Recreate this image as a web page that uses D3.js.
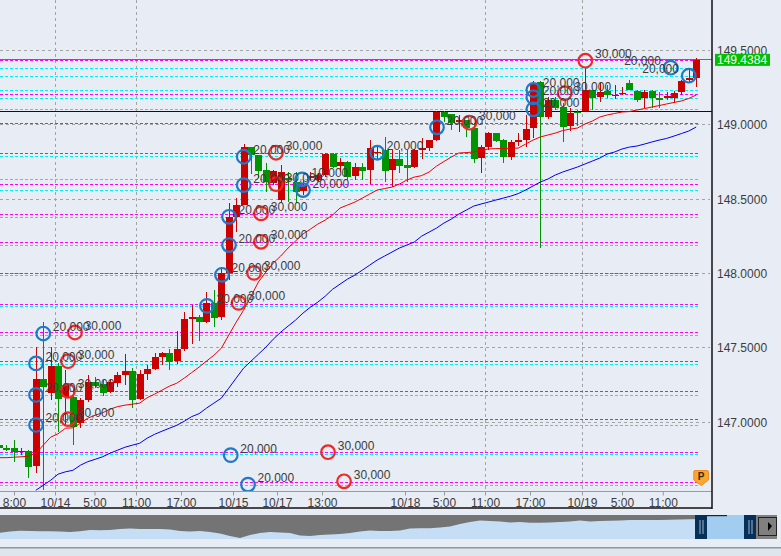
<!DOCTYPE html>
<html><head><meta charset="utf-8">
<script src="https://cdn.jsdelivr.net/npm/d3@7/dist/d3.min.js"></script>
<style>html,body{margin:0;padding:0;background:#e8ecf5;overflow:hidden}svg{display:block}
text{font-family:"Liberation Sans",Arial,sans-serif;font-size:12px;fill:#3c3c3c}</style>
</head><body><svg id="c" width="781" height="556"></svg>
<script>
const opens=[146.842,146.826,146.821,146.797,146.801,146.700,147.286,147.190,147.375,147.165,147.167,146.990,147.145,147.268,147.252,147.200,147.261,147.313,147.338,147.156,147.320,147.353,147.436,147.465,147.409,147.488,147.690,147.703,147.671,147.797,147.705,147.999,148.376,148.457,148.845,148.793,148.692,148.605,148.491,148.639,148.614,148.551,148.639,148.625,148.659,148.800,148.719,148.744,148.654,148.711,148.696,148.807,148.827,148.692,148.767,148.726,148.715,148.827,148.838,148.894,149.081,149.069,149.018,149.029,148.973,148.771,148.845,148.939,148.894,148.782,148.891,148.894,148.973,149.287,149.051,149.164,149.118,148.989,149.086,149.092,149.231,149.186,149.226,149.197,149.207,149.280,149.224,149.175,149.224,149.177,149.184,149.175,149.215,149.305,149.310];
const highs=[146.842,146.842,146.875,146.821,146.813,147.503,147.669,147.503,147.394,147.347,147.225,147.158,147.313,147.299,147.279,147.286,147.335,147.454,147.360,147.347,147.380,147.461,147.467,147.488,147.609,147.737,147.784,147.717,147.873,147.885,148.042,148.470,148.504,148.867,148.847,148.793,148.740,148.692,148.726,148.679,148.681,148.625,148.679,148.672,148.807,148.807,148.773,148.753,148.740,148.740,148.894,148.847,148.917,148.827,148.827,148.827,148.834,148.906,148.894,149.090,149.090,149.069,149.063,149.029,149.009,148.861,148.948,148.941,148.901,148.894,148.941,149.063,149.291,149.291,149.184,149.184,149.143,149.110,149.096,149.377,149.231,149.278,149.264,149.264,149.253,149.298,149.231,149.231,149.231,149.219,149.219,149.224,149.298,149.379,149.446];
const lows=[146.821,146.801,146.729,146.774,146.622,146.655,146.539,147.145,146.931,146.976,146.842,146.956,147.133,147.225,147.171,147.194,147.234,147.245,147.089,147.145,147.279,147.347,147.380,147.347,147.387,147.474,147.521,147.544,147.663,147.638,147.683,147.952,148.277,148.457,148.665,148.639,148.546,148.591,148.479,148.477,148.470,148.524,148.625,148.612,148.647,148.709,148.681,148.625,148.625,148.625,148.598,148.760,148.614,148.578,148.674,148.614,148.704,148.765,148.822,148.890,149.013,148.962,148.950,148.917,148.742,148.674,148.827,148.881,148.742,148.760,148.854,148.849,148.910,148.168,149.034,149.096,148.883,148.957,148.989,149.092,149.096,149.152,149.177,149.170,149.197,149.231,149.152,149.112,149.108,149.112,149.164,149.141,149.197,149.280,149.253];
const closes=[146.823,146.808,146.797,146.803,146.696,147.286,147.234,147.373,147.156,147.245,146.965,147.145,147.268,147.241,147.194,147.268,147.313,147.340,147.145,147.320,147.353,147.432,147.465,147.402,147.488,147.690,147.703,147.671,147.797,147.698,147.999,148.376,148.457,148.845,148.793,148.688,148.614,148.686,148.679,148.625,148.546,148.591,148.652,148.659,148.800,148.715,148.748,148.647,148.711,148.688,148.838,148.814,148.688,148.767,148.721,148.708,148.827,148.838,148.894,149.085,149.051,149.007,149.029,148.973,148.765,148.845,148.939,148.890,148.782,148.883,148.894,148.966,149.278,149.051,149.164,149.110,148.984,149.078,149.083,149.231,149.175,149.219,149.197,149.200,149.211,149.231,149.164,149.219,149.175,149.170,149.190,149.209,149.293,149.311,149.433];
const maRed=[146.758,146.758,146.761,146.764,146.768,146.788,146.842,146.896,146.919,146.956,146.959,146.990,147.023,147.044,147.060,147.084,147.101,147.111,147.118,147.125,147.161,147.185,147.212,147.239,147.259,147.293,147.330,147.367,147.407,147.447,147.494,147.582,147.669,147.750,147.844,147.939,148.006,148.067,148.114,148.168,148.215,148.262,148.295,148.329,148.356,148.390,148.437,148.457,148.477,148.504,148.531,148.558,148.568,148.578,148.598,148.625,148.645,148.655,148.679,148.719,148.750,148.780,148.807,148.810,148.814,148.827,148.834,148.837,148.837,148.840,148.840,148.867,148.894,148.915,148.928,148.941,148.958,148.968,148.975,149.002,149.022,149.049,149.063,149.073,149.083,149.086,149.096,149.106,149.116,149.126,149.137,149.147,149.157,149.174,149.197];
const maBlueStart=5;
const maBlue=[146.539,146.572,146.606,146.647,146.663,146.673,146.707,146.731,146.747,146.764,146.788,146.808,146.828,146.842,146.855,146.889,146.915,146.936,146.956,146.976,147.003,147.034,147.054,147.091,147.125,147.158,147.225,147.293,147.360,147.407,147.454,147.501,147.555,147.602,147.643,147.683,147.730,147.770,147.804,147.844,147.891,147.925,147.959,147.986,148.019,148.053,148.087,148.114,148.141,148.168,148.188,148.208,148.248,148.275,148.302,148.336,148.363,148.396,148.423,148.450,148.464,148.477,148.491,148.504,148.517,148.534,148.558,148.585,148.612,148.632,148.659,148.679,148.696,148.713,148.733,148.753,148.773,148.800,148.814,148.834,148.847,148.854,148.867,148.881,148.894,148.905,148.921,148.938,148.955,148.982];
const magentaLevels=[149.428,149.202,149.007,148.805,148.595,148.393,148.203,147.997,147.790,147.598,147.405,147.203,147.015,146.790,146.590];
const cyanLevels=[149.377,149.320,149.226,149.175,149.101,148.782,148.630,148.558,148.374,148.188,147.984,147.775,147.582,147.387,147.178,146.976,146.779,146.572];
const priceTicks=[149.5,149,148.5,148,147.5,147];
const currentPrice=149.4384, refPrice=149.090;
const timeLabels=["8:00","10/14","5:00","11:00","17:00","10/15","10/17","13:00","10/18","5:00","11:00","17:00","10/19","5:00","11:00"];
const timeBars=[2.06,7.59,12.91,18.5,24.57,31.58,37.5,43.57,54.76,60.01,65.54,71.6,78.6,84,89.5];
const gridBars=[7.59,18.5,65.54,78.6];
const blueBars=[6.01,5.03,5.03,5.03,28.07,30.09,31.04,31.04,33.02,33.02,41.01,40.88,51.02,59.07,72.05,72.05,72.05,90.56,93.0,31.27,33.6];
const bluePrices=[147.593,147.392,147.180,146.978,147.779,147.988,148.188,148.378,148.591,148.782,148.558,148.630,148.809,148.980,149.101,149.182,149.231,149.381,149.327,146.775,146.577];
const blueLabels=["20,000","20,000","20,000","20,000","20,000","20,000","20,000","20,000","20,000","20,000","20,000","10,000","20,000","20,000","20,000","20,000","20,000","20,000","20,000","20,000","20,000"];
const redBars=[10.28,9.34,9.34,9.34,32.34,34.41,35.35,35.35,37.37,37.37,63.43,76.28,79.06,44.38,46.54];
const redPrices=[147.600,147.407,147.207,147.017,147.799,148.001,148.210,148.401,148.598,148.809,149.011,149.209,149.428,146.795,146.599];
const redLabel="30,000";
const overview=[6.3,7.5,8.3,8,7.8,7.7,7.4,7,7.8,9,8.7,9,10,10.5,10,10,10,9.5,8,7.5,8,7,5.5,3,1,4,6,7,6.5,6,3.5,3,4,4.5,5,6,7.5,8.5,8,8,8.5,10.5,10.7,10.7,11.5,12.5,15,17,18.5,18,17.5,16.5,17,16.2,16.2,16.5,17,17.5,18.5,17.5,18,18.2,18.5,19,19,19,19,19.2,19.5,19.8,20];

const W=781,H=556,plotR=712,axisY=491,botY=508;
const svg=d3.select("#c");
svg.append("rect").attr("width",W).attr("height",H).attr("fill","#e8ecf5");
const x=d3.scaleLinear().domain([0,94]).range([-1.3,696.2]);
const y=d3.scaleLinear().domain([149.5,147]).range([50,421.7]);
const clip=svg.append("defs").append("clipPath").attr("id","pc");
clip.append("rect").attr("width",plotR).attr("height",axisY);
const plot=svg.append("g").attr("clip-path","url(#pc)");

// grid
plot.append("g").selectAll("line").data(priceTicks).join("line")
 .attr("x1",0).attr("x2",710).attr("y1",d=>Math.round(y(d))+.5).attr("y2",d=>Math.round(y(d))+.5)
 .attr("stroke","#a4a4a4").attr("stroke-dasharray","3,3");
plot.append("g").selectAll("line").data(gridBars).join("line")
 .attr("x1",d=>Math.round(x(d))+.5).attr("x2",d=>Math.round(x(d))+.5).attr("y1",0).attr("y2",axisY)
 .attr("stroke","#a4a4a4").attr("stroke-dasharray","3,3");
// levels
function levels(arr,stroke){plot.append("g").selectAll("line").data(arr).join("line")
 .attr("x1",0).attr("x2",700).attr("y1",d=>Math.floor(y(d))+.5).attr("y2",d=>Math.floor(y(d))+.5)
 .attr("stroke",stroke).attr("stroke-width",1).attr("stroke-dasharray","3,2");}
levels(cyanLevels,"#00f0f0");levels(magentaLevels,"#ff00ff");
// price lines
plot.append("line").attr("x1",0).attr("x2",plotR).attr("y1",Math.round(y(currentPrice))+.5).attr("y2",Math.round(y(currentPrice))+.5).attr("stroke","#18a818");
plot.append("line").attr("x1",0).attr("x2",plotR).attr("y1",Math.round(y(refPrice))+.5).attr("y2",Math.round(y(refPrice))+.5).attr("stroke","#111");
// candles
const idx=d3.range(opens.length);
const col=i=>closes[i]>=opens[i]?"#cc0000":"#009400";
const g=plot.append("g").attr("shape-rendering","crispEdges");
g.append("g").selectAll("rect").data(idx).join("rect")
 .attr("x",i=>Math.round(x(i))-.5).attr("width",1.4).attr("y",i=>y(highs[i])).attr("height",i=>y(lows[i])-y(highs[i])).attr("fill",col);
g.append("g").selectAll("rect").data(idx).join("rect")
 .attr("x",i=>Math.round(x(i))-3.5).attr("width",7)
 .attr("y",i=>y(Math.max(opens[i],closes[i])))
 .attr("height",i=>Math.max(1.5,Math.abs(y(opens[i])-y(closes[i])))).attr("fill",col);
// moving averages
const ln=d3.line().x(d=>x(d[0])).y(d=>y(d[1]));
plot.append("path").attr("d",ln(maBlue.map((v,i)=>[i+maBlueStart,v]))).attr("fill","none").attr("stroke","#0000f0").attr("stroke-width",1);
plot.append("path").attr("d",ln(maRed.map((v,i)=>[i,v]))).attr("fill","none").attr("stroke","#f00000").attr("stroke-width",1);
// markers
function marks(bars,prices,stroke){plot.append("g").selectAll("circle").data(bars).join("circle")
 .attr("cx",d=>x(d)).attr("cy",(d,i)=>y(prices[i])).attr("r",6.8).attr("fill","none").attr("stroke",stroke).attr("stroke-width",2.2);}
marks(redBars,redPrices,"#f02828");marks(blueBars,bluePrices,"#1f78c8");
const lab=svg.append("g");
blueBars.forEach((b,i)=>{const left=b>90;
 lab.append("text").attr("x",x(b)+(left?-9.8:9.5)).attr("y",y(bluePrices[i])-2.5).attr("text-anchor",left?"end":"start").text(blueLabels[i]);});
redBars.forEach((b,i)=>{lab.append("text").attr("x",x(b)+9.7).attr("y",y(redPrices[i])-2.5).text(redLabel);});

// axes
const ax=svg.append("g").attr("transform",`translate(0,${axisY+.5})`)
 .call(d3.axisBottom(x).tickValues(timeBars).tickFormat((d,i)=>timeLabels[i]).tickSize(4).tickPadding(1));
ax.select(".domain").attr("stroke","#9a9a9a").attr("d",`M0,0H${plotR}`);
ax.selectAll(".tick line").attr("stroke","#9a9a9a");
ax.selectAll("text").attr("y",15).attr("dy",0).style("font-size","12px").style("font-family",'"Liberation Sans",Arial,sans-serif').attr("fill","#3c3c3c");
const ay=svg.append("g").attr("transform",`translate(${plotR},0)`)
 .call(d3.axisRight(y).tickValues(priceTicks).tickFormat(d3.format(".4f")).tickSize(0).tickPadding(5));
ay.select(".domain").remove();
ay.selectAll("text").attr("dy","0.36em").style("font-size","12px").style("font-family",'"Liberation Sans",Arial,sans-serif').attr("fill","#3c3c3c");
svg.append("line").attr("x1",plotR).attr("x2",plotR).attr("y1",0).attr("y2",botY+1).attr("stroke","#111").attr("stroke-width",1.5);
svg.append("line").attr("x1",0).attr("x2",plotR).attr("y1",botY).attr("y2",botY).attr("stroke","#111").attr("stroke-width",1.5);
// price tag
svg.append("rect").attr("x",715).attr("y",y(currentPrice)-5.3).attr("width",55).attr("height",12).attr("fill","#00c000");
svg.append("text").attr("x",717).attr("y",y(currentPrice)+4.8).style("fill","#fff").text(currentPrice.toFixed(4));

// P badge
const pb=svg.append("g");
pb.append("path").attr("d","M695,470.5H707.5Q708.5,470.5 708.5,472V480L701.2,485.5L693.8,480V472Q693.8,470.5 695,470.5Z").attr("fill","#f8a82c").attr("stroke","#f08a28");
pb.append("text").attr("x",701.2).attr("y",479.5).attr("text-anchor","middle").style("font-size","10px").style("font-weight","bold").style("fill","#3a2a10").text("P");

// overview strip
const ovTop=515,ovBot=539;
const ox=d3.scaleLinear().domain([0,overview.length-1]).range([0,700]);
const oy=d3.scaleLinear().domain([0,24]).range([ovBot,ovTop]);
svg.append("rect").attr("y",ovTop).attr("width",777).attr("height",ovBot-ovTop).attr("fill","#747474");
svg.append("path").attr("d",d3.area().x((d,i)=>ox(i)).y0(ovBot).y1(d=>oy(d))(overview)).attr("fill","#c6def5");
svg.append("rect").attr("x",706).attr("y",ovTop).attr("width",38).attr("height",ovBot-ovTop).attr("fill","#a2ccf0");
svg.append("rect").attr("x",706).attr("y",ovTop).attr("width",21).attr("height",1.2).attr("fill","#222");
[[695,12],[744,12]].forEach(h=>{
 svg.append("rect").attr("x",h[0]).attr("y",ovTop).attr("width",h[1]).attr("height",ovBot-ovTop).attr("fill","#062f59");
 [4.5,7.5].forEach(o=>svg.append("rect").attr("x",h[0]+o).attr("y",ovTop+5).attr("width",1).attr("height",14).attr("fill","#9fb4c8"));
});
svg.append("rect").attr("x",756).attr("y",ovTop).attr("width",21).attr("height",ovBot-ovTop).attr("fill","#808080");
svg.append("rect").attr("x",758.5).attr("y",517.5).attr("width",18).attr("height",18).attr("fill","#808080").attr("stroke","#222");
svg.append("path").attr("d","M768,522L772,526L768,531Z").attr("fill","#000");
svg.append("rect").attr("y",547).attr("width",W).attr("height",9).attr("fill","#dfe5ed");
svg.append("rect").attr("y",547).attr("width",W).attr("height",1.5).attr("fill","#8c96a4");
</script></body></html>
